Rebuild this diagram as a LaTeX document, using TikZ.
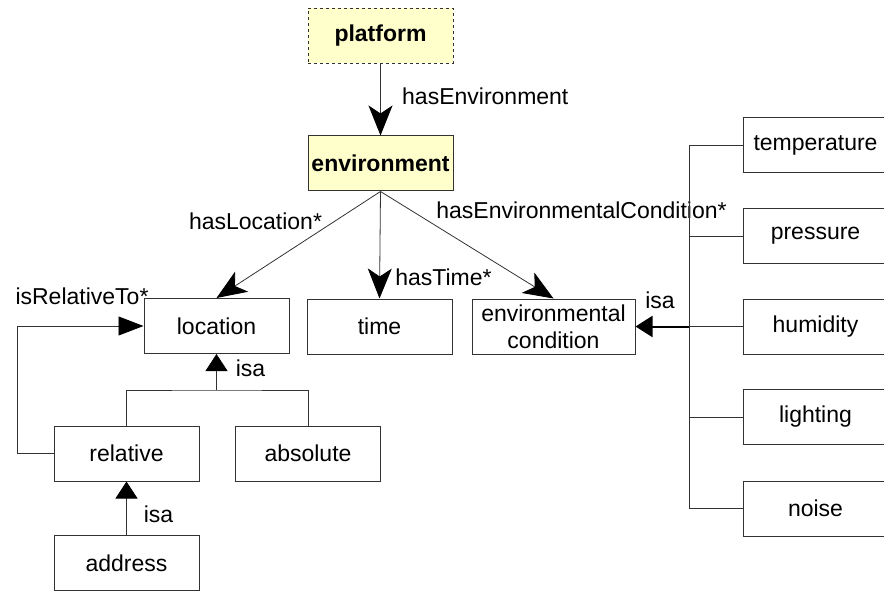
\documentclass[tikz,border=0pt]{standalone}
\usepackage{fontspec}
\setmainfont{Liberation Sans}
\usepackage{tikz}
\usetikzlibrary{arrows.meta}
\definecolor{boxfill}{RGB}{255,255,204}
\definecolor{linegray}{RGB}{50,50,50}

\begin{document}
\begin{tikzpicture}[x=1pt,y=-1pt,
    font=\fontsize{23}{26}\selectfont,
    classbox/.style={draw=linegray,line width=1pt,minimum width=145pt,minimum height=55pt,inner sep=0pt,align=center},
    mainbox/.style={classbox,fill=boxfill,font=\fontsize{23}{26}\selectfont\bfseries},
    lbl/.style={inner sep=0pt},
    rel/.style={draw=linegray,line width=0.8pt,-{Stealth[length=30pt,width=24pt,inset=8pt,black]}},
    isa/.style={draw=linegray,line width=0.8pt,-{Triangle[length=17pt,width=22pt,black]}}]
    \useasboundingbox (0,0) rectangle (884,591);
    % Classes
    \node[mainbox,dashed] (platform) at (380.5,36) {platform};
    \node[mainbox] (environment) at (380.5,163.5) {environment};
    \node[classbox] (location) at (216.5,326) {location};
    \node[classbox] (time) at (379.5,326.5) {time};
    \node[classbox,minimum width=163pt] (condition) at (553.5,326.5) {environmental\\[1pt]condition};
    \node[classbox] (relative) at (126.5,453.5) {relative};
    \node[classbox] (absolute) at (308,453.5) {absolute};
    \node[classbox] (address) at (126.5,563) {address};
    % Conditions
    \node[classbox] (temperature) at (815.5,145) {temperature};
    \node[classbox] (pressure) at (815.5,236) {pressure};
    \node[classbox] (humidity) at (815.5,326.5) {humidity};
    \node[classbox] (lighting) at (815.5,417) {lighting};
    \node[classbox] (noise) at (815.5,508.5) {noise};
    % Labels
    \node[lbl,anchor=west] (lblenv) at (402,96) {hasEnvironment};
    \node[lbl] (lblloc) at (255.5,221) {hasLocation*};
    \node[lbl] (lbltime) at (443.5,277) {hasTime*};
    \node[lbl] (lblcond) at (581.5,210) {hasEnvironmentalCondition*};
    \node[lbl] (lblrelto) at (82,296) {isRelativeTo*};
    \node[lbl] (lblisaloc) at (250.5,368) {isa};
    \node[lbl] (lblisaaddr) at (158.5,514) {isa};
    \node[lbl] (lblisacond) at (660,300) {isa};
    % Relations
    \draw[rel] (platform) -- (environment); % hasEnvironment
    \draw[rel] (environment.south) -- (location.north); % hasLocation
    \draw[rel] (environment.south) -- (time.north); % hasTime
    \draw[rel] (environment.south) -- (condition.north); % hasEnvironmentalCondition
    % isRelativeTo
    \coordinate (relbend) at (17,453.5);
    \draw[draw=linegray,line width=0.8pt,-{Triangle[length=25pt,width=19pt,black]}] (relative.west) -- (relbend) |- (location.west);
    % isa location
    \coordinate (locjoin) at (216.5,390);
    \draw[draw=linegray,line width=0.8pt] (relative.north) |- (locjoin) -| (absolute.north);
    \draw[isa] (locjoin) -- (location.south);
    \draw[isa] (address) -- (relative); % isa relative
    % isa condition
    \coordinate (condjoin) at (689,326.5);
    \draw[draw=linegray,line width=0.8pt] (temperature.west) -| (condjoin |- noise.west) -- (noise.west);
    \draw[draw=linegray,line width=0.8pt] (pressure.west) -- (pressure.west -| condjoin);
    \draw[draw=linegray,line width=0.8pt] (humidity.west) -- (condjoin);
    \draw[draw=linegray,line width=0.8pt] (lighting.west) -- (lighting.west -| condjoin);
    \draw[draw=black,line width=2pt,-{Triangle[length=17pt,width=21pt]}] (condjoin) -- (condition.east);
\end{tikzpicture}
\end{document}
